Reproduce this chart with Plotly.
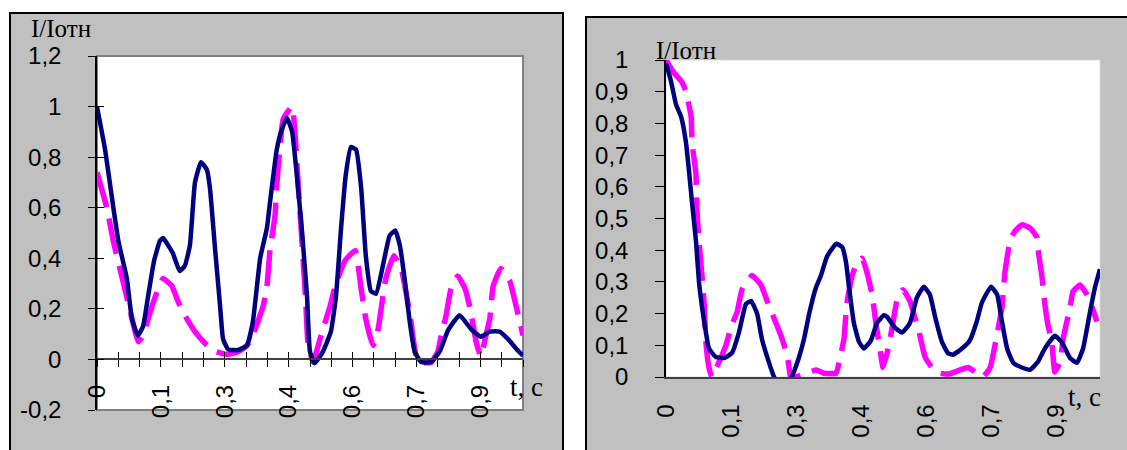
import plotly.graph_objects as go

# ---------------- data ----------------
# Left panel
t_left_navy = [0.0, 0.019, 0.035, 0.05, 0.07, 0.082, 0.096, 0.108, 0.12, 0.134, 0.148, 0.155, 0.178, 0.194,
               0.206, 0.218, 0.23, 0.244, 0.258, 0.265, 0.277, 0.289, 0.296, 0.308, 0.331, 0.352, 0.366, 0.383,
               0.399, 0.406, 0.422, 0.434, 0.446, 0.458, 0.469, 0.481, 0.493, 0.50, 0.511, 0.53, 0.549, 0.561,
               0.573, 0.584, 0.596, 0.608, 0.62, 0.631, 0.643, 0.655, 0.671, 0.687, 0.70, 0.711, 0.722, 0.734,
               0.746, 0.761, 0.784, 0.804, 0.824, 0.851, 0.878, 0.901, 0.922, 0.945, 0.965, 0.988, 1.0]
v_left_navy = [1.0, 0.83, 0.64, 0.47, 0.32, 0.16, 0.095, 0.13, 0.25, 0.39, 0.47, 0.48, 0.42, 0.35,
               0.37, 0.45, 0.70, 0.78, 0.75, 0.68, 0.44, 0.21, 0.08, 0.04, 0.037, 0.055, 0.15, 0.40,
               0.52, 0.62, 0.83, 0.91, 0.955, 0.90, 0.73, 0.51, 0.25, 0.03, -0.015, 0.03, 0.11, 0.25,
               0.52, 0.73, 0.84, 0.83, 0.68, 0.41, 0.27, 0.26, 0.37, 0.49, 0.51, 0.45, 0.32, 0.15,
               0.03, -0.01, -0.01, 0.03, 0.115, 0.175, 0.12, 0.09, 0.11, 0.11, 0.08, 0.035, 0.015]

t_left_pink = [0.0, 0.023, 0.038, 0.058, 0.078, 0.097, 0.108, 0.12, 0.131, 0.155, 0.176, 0.19, 0.211, 0.23,
               0.254, 0.277, 0.305, 0.331, 0.352, 0.371, 0.39, 0.399, 0.406, 0.418, 0.422, 0.43, 0.437, 0.458,
               0.465, 0.472, 0.481, 0.49, 0.495, 0.507, 0.526, 0.547, 0.559, 0.582, 0.606, 0.62, 0.631, 0.648,
               0.66, 0.667, 0.678, 0.697, 0.714, 0.725, 0.737, 0.749, 0.765, 0.784, 0.80, 0.808, 0.819, 0.831,
               0.847, 0.864, 0.876, 0.89, 0.901, 0.913, 0.922, 0.93, 0.948, 0.969, 0.984, 1.0]
v_left_pink = [0.74, 0.60, 0.47, 0.33, 0.19, 0.07, 0.095, 0.16, 0.22, 0.32, 0.29, 0.23, 0.16, 0.11,
               0.063, 0.032, 0.02, 0.03, 0.055, 0.12, 0.21, 0.29, 0.43, 0.57, 0.69, 0.85, 0.95, 1.0,
               0.89, 0.70, 0.47, 0.23, 0.07, -0.01, 0.095, 0.21, 0.29, 0.39, 0.43, 0.28, 0.16, 0.055,
               0.12, 0.20, 0.32, 0.41, 0.36, 0.27, 0.15, 0.016, -0.012, -0.012, 0.03, 0.095, 0.17, 0.28,
               0.33, 0.28, 0.20, 0.07, 0.012, 0.095, 0.16, 0.29, 0.36, 0.31, 0.21, 0.095]

# Right panel
t_right_navy = [0.0, 0.012, 0.023, 0.035, 0.046, 0.053, 0.06, 0.069, 0.076, 0.083, 0.092, 0.099, 0.115, 0.134,
                0.152, 0.168, 0.184, 0.196, 0.21, 0.221, 0.237, 0.249, 0.265, 0.28, 0.29, 0.306, 0.318, 0.33,
                0.345, 0.357, 0.371, 0.392, 0.406, 0.415, 0.422, 0.433, 0.445, 0.456, 0.472, 0.486, 0.502, 0.509,
                0.528, 0.544, 0.562, 0.578, 0.594, 0.608, 0.62, 0.636, 0.65, 0.661, 0.682, 0.70, 0.716, 0.728,
                0.749, 0.763, 0.774, 0.786, 0.80, 0.82, 0.839, 0.857, 0.873, 0.896, 0.912, 0.931, 0.947, 0.961,
                0.977, 0.988, 1.0]
v_right_navy = [0.99, 0.93, 0.86, 0.82, 0.74, 0.65, 0.55, 0.43, 0.30, 0.22, 0.14, 0.09, 0.063, 0.06,
                0.076, 0.14, 0.23, 0.24, 0.20, 0.12, 0.047, 0.0, -0.04, -0.03, 0.0, 0.06, 0.12, 0.20,
                0.28, 0.32, 0.38, 0.42, 0.41, 0.36, 0.28, 0.17, 0.11, 0.09, 0.115, 0.17, 0.195, 0.19,
                0.155, 0.14, 0.17, 0.25, 0.285, 0.26, 0.19, 0.11, 0.075, 0.07, 0.09, 0.115, 0.175, 0.235,
                0.285, 0.26, 0.175, 0.09, 0.045, 0.03, 0.023, 0.048, 0.09, 0.13, 0.11, 0.06, 0.045, 0.09,
                0.205, 0.28, 0.34]

t_right_pink = [0.0, 0.018, 0.037, 0.046, 0.058, 0.06, 0.069, 0.071, 0.076, 0.081, 0.088, 0.092, 0.099, 0.106,
                0.122, 0.138, 0.152, 0.164, 0.175, 0.198, 0.219, 0.233, 0.249, 0.265, 0.279, 0.29, 0.30, 0.325,
                0.346, 0.364, 0.392, 0.399, 0.41, 0.417, 0.429, 0.44, 0.452, 0.463, 0.475, 0.484, 0.493, 0.50,
                0.512, 0.521, 0.532, 0.546, 0.562, 0.574, 0.581, 0.597, 0.613, 0.631, 0.654, 0.677, 0.696, 0.712,
                0.73, 0.747, 0.758, 0.774, 0.781, 0.793, 0.804, 0.82, 0.839, 0.855, 0.859, 0.866, 0.873, 0.88,
                0.889, 0.896, 0.908, 0.915, 0.931, 0.938, 0.954, 0.97, 0.982, 0.993]
v_right_pink = [1.0, 0.96, 0.93, 0.90, 0.82, 0.74, 0.64, 0.53, 0.43, 0.35, 0.23, 0.11, 0.03, 0.0,
                0.047, 0.10, 0.165, 0.205, 0.275, 0.32, 0.29, 0.24, 0.185, 0.13, 0.07, -0.02, 0.0, 0.012,
                0.022, 0.012, 0.012, 0.047, 0.12, 0.235, 0.32, 0.36, 0.375, 0.33, 0.26, 0.165, 0.09, 0.03,
                0.09, 0.155, 0.24, 0.275, 0.24, 0.185, 0.155, 0.063, 0.03, 0.012, 0.01, 0.022, 0.03, 0.016,
                0.0, 0.03, 0.10, 0.22, 0.33, 0.43, 0.46, 0.48, 0.47, 0.44, 0.385, 0.32, 0.23, 0.165,
                0.11, 0.016, 0.047, 0.12, 0.22, 0.27, 0.29, 0.26, 0.22, 0.175]

# Axis ticks and labels
x_tick_vals = [i / 20 for i in range(21)]
x_label_text = {0: "0", 3: "0,1", 6: "0,3", 9: "0,4", 12: "0,6", 15: "0,7", 18: "0,9"}
x_tick_text = [x_label_text.get(i, "") for i in range(21)]
x_label_vals = [x_tick_vals[i] for i in sorted(x_label_text)]
x_label_list = [x_label_text[i] for i in sorted(x_label_text)]

yl_vals = [-0.2, 0, 0.2, 0.4, 0.6, 0.8, 1.0, 1.2]
yl_text = ["-0,2", "0", "0,2", "0,4", "0,6", "0,8", "1", "1,2"]
yr_vals = [0, 0.1, 0.2, 0.3, 0.4, 0.5, 0.6, 0.7, 0.8, 0.9, 1.0]
yr_text = ["0", "0,1", "0,2", "0,3", "0,4", "0,5", "0,6", "0,7", "0,8", "0,9", "1"]

# ---------------- layout helpers ----------------
W, H = 1127, 450
def PX(x):
    return x / W
def PY(y):
    return 1 - y / H

NAVY = "#000080"
PINK = "#FF00FF"
SANS = "Liberation Sans, Arial, sans-serif"
SERIF = "Liberation Serif, Times New Roman, serif"
TICKFONT = dict(family=SANS, size=24, color="black")

xl_dom = [PX(97), PX(523)]
yl_dom = [PY(410), PY(56)]
xr_dom = [PX(666), PX(1100)]
yr_dom = [PY(377), PY(60)]
yl_range = [-0.2, 1.2]
zero_pos = yl_dom[0] + (0 - yl_range[0]) / (yl_range[1] - yl_range[0]) * (yl_dom[1] - yl_dom[0])

fig = go.Figure()
line_navy = dict(color=NAVY, width=4.5, shape="spline", smoothing=0.4)
line_pink = dict(color=PINK, width=5.5, dash="36px,12px", shape="spline", smoothing=0.4)

fig.add_trace(go.Scatter(x=t_left_pink, y=v_left_pink, mode="lines", line=line_pink, xaxis="x", yaxis="y"))
fig.add_trace(go.Scatter(x=t_left_navy, y=v_left_navy, mode="lines", line=line_navy, xaxis="x", yaxis="y"))
fig.add_trace(go.Scatter(x=t_right_pink, y=v_right_pink, mode="lines", line=line_pink, xaxis="x2", yaxis="y2"))
fig.add_trace(go.Scatter(x=t_right_navy, y=v_right_navy, mode="lines", line=line_navy, xaxis="x2", yaxis="y2"))
# empty traces so the overlay tick axes get drawn
fig.add_trace(go.Scatter(x=[], y=[], xaxis="x3", yaxis="y"))
fig.add_trace(go.Scatter(x=[], y=[], xaxis="x", yaxis="y3"))

shapes = [
    dict(type="rect", xref="paper", yref="paper", x0=PX(10), x1=PX(563), y0=PY(470), y1=PY(13),
         fillcolor="#C0C0C0", line=dict(color="black", width=2), layer="below"),
    dict(type="rect", xref="paper", yref="paper", x0=PX(586), x1=PX(1140), y0=PY(470), y1=PY(17),
         fillcolor="#C0C0C0", line=dict(color="black", width=2), layer="below"),
    dict(type="rect", xref="paper", yref="paper", x0=xl_dom[0], x1=xl_dom[1], y0=yl_dom[0], y1=yl_dom[1],
         fillcolor="white", line=dict(color="#808080", width=2), layer="below"),
    dict(type="rect", xref="paper", yref="paper", x0=xr_dom[0], x1=xr_dom[1], y0=yr_dom[0], y1=yr_dom[1],
         fillcolor="white", line=dict(color="#D8D8D8", width=1), layer="below"),
]

annotations = [
    dict(text="I/Iотн", xref="paper", yref="paper", x=PX(29), y=PY(29), xanchor="left", yanchor="middle",
         showarrow=False, font=dict(family=SERIF, size=25, color="black")),
    dict(text="I/Iотн", xref="paper", yref="paper", x=PX(654), y=PY(50), xanchor="left", yanchor="middle",
         showarrow=False, font=dict(family=SERIF, size=25, color="black")),
    dict(text="t, c", xref="paper", yref="paper", x=PX(508), y=PY(387), xanchor="left", yanchor="middle",
         showarrow=False, font=dict(family=SERIF, size=27, color="black")),
    dict(text="t, c", xref="paper", yref="paper", x=PX(1066), y=PY(397), xanchor="left", yanchor="middle",
         showarrow=False, font=dict(family=SERIF, size=27, color="black")),
]

common = dict(showgrid=False, zeroline=False, fixedrange=True, automargin=False)

fig.update_layout(
    template="none",
    width=W, height=H, autosize=False,
    margin=dict(l=0, r=0, t=0, b=0, pad=0),
    paper_bgcolor="white",
    plot_bgcolor="rgba(0,0,0,0)",
    showlegend=False,
    shapes=shapes,
    annotations=annotations,
    xaxis=dict(domain=xl_dom, range=[0, 1], anchor="free", position=zero_pos,
               showline=True, linecolor="#404040", linewidth=1.5,
               ticks="outside", ticklen=7, tickcolor="black", tickwidth=1,
               tickmode="array", tickvals=x_tick_vals, ticktext=x_tick_text,
               tickangle=-90, tickfont=TICKFONT, ticklabelstandoff=8, **common),
    xaxis3=dict(overlaying="x", range=[0, 1], anchor="free", position=zero_pos,
                showline=False, ticks="inside", ticklen=7, tickcolor="black", tickwidth=1,
                tickmode="array", tickvals=x_tick_vals, showticklabels=False, **common),
    yaxis=dict(domain=yl_dom, range=yl_range, anchor="x",
               showline=True, linecolor="black", linewidth=1.5,
               ticks="outside", ticklen=7, tickcolor="black", tickwidth=1,
               tickmode="array", tickvals=yl_vals, ticktext=yl_text,
               tickfont=TICKFONT, ticklabelstandoff=22, **common),
    yaxis3=dict(overlaying="y", range=yl_range, anchor="x",
                showline=False, ticks="inside", ticklen=7, tickcolor="black", tickwidth=1,
                tickmode="array", tickvals=yl_vals, showticklabels=False, **common),
    xaxis2=dict(domain=xr_dom, range=[0, 1], anchor="y2",
                showline=True, linecolor="#404040", linewidth=1.5, ticks="",
                tickmode="array", tickvals=x_label_vals, ticktext=x_label_list,
                tickangle=-90, tickfont=TICKFONT, ticklabelstandoff=16, **common),
    yaxis2=dict(domain=yr_dom, range=[0, 1], anchor="x2",
                showline=True, linecolor="black", linewidth=1.5,
                ticks="outside", ticklen=9, tickcolor="black", tickwidth=1,
                tickmode="array", tickvals=yr_vals, ticktext=yr_text,
                tickfont=TICKFONT, ticklabelstandoff=22, **common),
)

fig.write_html("out.html", config={"displayModeBar": False},
               post_script="document.body.style.margin='0';document.body.style.overflow='hidden';")
